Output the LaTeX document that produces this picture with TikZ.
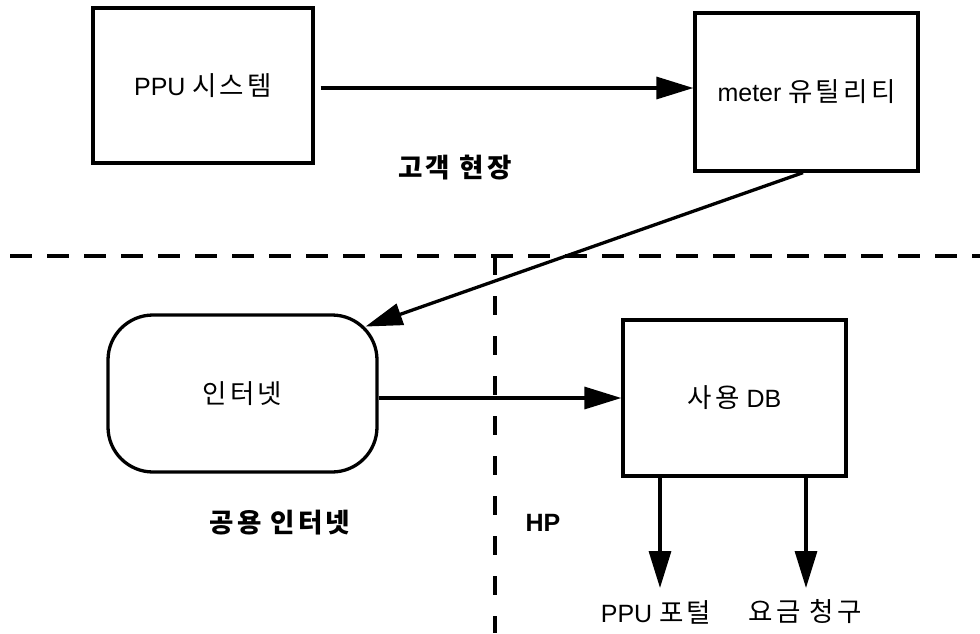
\documentclass[tikz,border=0pt]{standalone}
\usepackage{fontspec}
\setmainfont{Liberation Sans}
\newfontfamily\krfont{Noto Sans CJK KR}[Scale=1.06,LetterSpace=12]
\usetikzlibrary{arrows.meta,calc}
\newcommand\ko[1]{{\krfont #1}}
\begin{document}
\begin{tikzpicture}[x=1pt,y=-1pt,
  every node/.style={font=\fontsize{25}{30}\selectfont},
  box/.style={draw,line width=3.3pt,inner sep=0pt},
  arr/.style={line width=3.3pt,-{Triangle[length=37pt,width=22pt]}},
  border/.style={line width=3.3pt,dash pattern=on 22pt off 15pt},
  zone/.style={font=\fontsize{25}{30}\selectfont\bfseries}]
\useasboundingbox (0,0) rectangle (980,633);

% zone boundaries
\draw[border] (10,256) -- (980,256);
\draw[border,dash pattern=on 19pt off 21pt] (495,256) -- (495,633);

% boxes
\node[box,minimum width=220pt,minimum height=155pt] (ppu) at (203,85.5) {PPU \ko{시스템}};
\node[box,minimum width=223pt,minimum height=158pt] (meter) at (806.5,92) {meter \ko{유틸리티}};
\node[box,rounded corners=45pt,minimum width=269pt,minimum height=157pt] (net) at (242.5,393.5) {\ko{인터넷}};
\node[box,minimum width=223pt,minimum height=156pt] (db) at (734.5,398) {\ko{사용} DB};

% zone labels
\node[zone] (site) at (455,168) {\ko{\bfseries 고객 현장}};
\node[zone] (pub) at (280,523) {\ko{\bfseries 공용 인터넷}};
\node[zone] (hp) at (543,523) {HP};

% outputs
\node (portal) at (656,612) {PPU \ko{포털}};
\node (bill) at (805,612) {\ko{요금 청구}};

% connectors
\coordinate (netcorner) at ($(net.north east)+(-13.2,13.2)$);
\coordinate (tipA) at (660,588);
\coordinate (tipB) at (806,588);
\draw[arr,shorten <=6pt] (ppu.east |- 0,88) -- (meter.west |- 0,88);
\draw[arr] (meter.south -| 803,0) -- (netcorner);
\draw[arr] (net.east |- db.west) -- (db.west);
\draw[arr] (db.south -| tipA) -- (tipA);
\draw[arr] (db.south -| tipB) -- (tipB);
\end{tikzpicture}
\end{document}
